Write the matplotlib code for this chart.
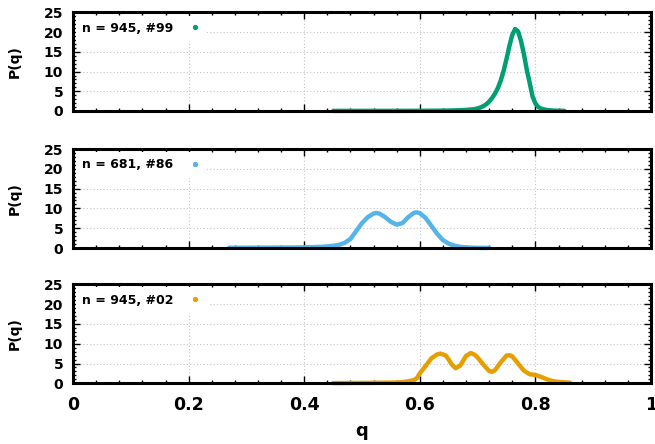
import matplotlib
matplotlib.use('Agg')
import matplotlib.pyplot as plt
from matplotlib.lines import Line2D
from matplotlib.ticker import MultipleLocator

# ── DATA ──────────────────────────────────────────────────────
q_99 = [0.45, 0.50, 0.55, 0.60, 0.63, 0.65, 0.67, 0.68, 0.69, 0.695,
        0.70, 0.705, 0.71, 0.715, 0.72, 0.725, 0.73, 0.735, 0.74, 0.745,
        0.75, 0.755, 0.76, 0.765, 0.77, 0.775, 0.78, 0.785, 0.79, 0.795,
        0.80, 0.805, 0.81, 0.815, 0.82, 0.83, 0.84, 0.85]
p_99 = [0.02, 0.03, 0.03, 0.05, 0.08, 0.12, 0.20, 0.28, 0.40, 0.50,
        0.65, 0.90, 1.25, 1.70, 2.40, 3.30, 4.40, 5.80, 7.70, 10.2,
        13.2, 16.5, 19.3, 20.8, 20.2, 17.8, 14.5, 10.5, 7.2, 3.7,
        1.9, 1.0, 0.6, 0.4, 0.25, 0.12, 0.06, 0.03]

q_86 = [0.27, 0.30, 0.33, 0.36, 0.39, 0.41, 0.43, 0.44, 0.45, 0.46,
        0.47, 0.48, 0.49, 0.50, 0.51, 0.52, 0.525, 0.53, 0.54, 0.55,
        0.56, 0.57, 0.58, 0.59, 0.595, 0.60, 0.61, 0.62, 0.63, 0.64,
        0.65, 0.66, 0.67, 0.68, 0.70, 0.72]
p_86 = [0.05, 0.08, 0.10, 0.12, 0.15, 0.20, 0.30, 0.40, 0.55, 0.80,
        1.30, 2.30, 4.30, 6.30, 7.80, 8.70, 8.85, 8.70, 7.80, 6.60,
        5.90, 6.30, 7.80, 8.90, 9.00, 8.80, 7.60, 5.60, 3.60, 2.00,
        1.10, 0.60, 0.30, 0.15, 0.05, 0.02]

q_02 = [0.45, 0.48, 0.51, 0.54, 0.56, 0.57, 0.58, 0.59, 0.595, 0.60,
        0.61, 0.62, 0.63, 0.636, 0.645, 0.65, 0.655, 0.662, 0.67, 0.68,
        0.688, 0.695, 0.70, 0.71, 0.72, 0.725, 0.73, 0.74, 0.75, 0.755,
        0.76, 0.77, 0.78, 0.79, 0.80, 0.81, 0.82, 0.83, 0.84, 0.85, 0.86]
p_02 = [0.05, 0.08, 0.10, 0.15, 0.20, 0.30, 0.50, 0.80, 1.30, 2.50,
        4.40, 6.30, 7.30, 7.50, 7.00, 6.00, 4.80, 3.80, 4.50, 6.90,
        7.65, 7.20, 6.50, 4.70, 3.10, 2.90, 3.30, 5.30, 7.00, 7.10,
        6.80, 5.00, 3.20, 2.30, 2.10, 1.60, 1.00, 0.55, 0.35, 0.25, 0.15]

labels = ['n = 945, #99', 'n = 681, #86', 'n = 945, #02']
colors = ['#009E73', '#56B4E9', '#E69F00']
series = [(q_99, p_99), (q_86, p_86), (q_02, p_02)]

x_ticks = [0, 0.2, 0.4, 0.6, 0.8, 1]
x_ticklabels = ['0', '0.2', '0.4', '0.6', '0.8', '1']
y_ticks = [0, 5, 10, 15, 20, 25]

# ── FIGURE ────────────────────────────────────────────────────
plt.rcParams['font.family'] = 'DejaVu Sans'
plt.rcParams['font.weight'] = 'bold'

fig = plt.figure(figsize=(6.55, 4.44), dpi=100)
rects = [
    [0.1115, 0.750, 0.8824, 0.2220],
    [0.1115, 0.4414, 0.8824, 0.2230],
    [0.1115, 0.1367, 0.8824, 0.2230],
]

for i, (rect, (q, p), lab, col) in enumerate(zip(rects, series, labels, colors)):
    ax = fig.add_axes(rect)
    ax.set_axisbelow(True)
    ax.plot(q, p, color=col, lw=3.2, solid_capstyle='round',
            solid_joinstyle='round', zorder=3, clip_on=False)

    ax.set_xlim(0, 1)
    ax.set_ylim(0, 25)
    ax.set_xticks(x_ticks)
    ax.set_yticks(y_ticks)
    ax.xaxis.set_minor_locator(MultipleLocator(0.04))
    ax.yaxis.set_minor_locator(MultipleLocator(1))
    ax.tick_params(which='both', direction='in', top=True, right=True,
                   width=1.0, color='black')
    ax.tick_params(which='major', length=5)
    ax.tick_params(which='minor', length=2.5)
    ax.tick_params(axis='y', labelsize=10, pad=7)
    ax.tick_params(axis='x', labelsize=12.5, pad=9)
    for lbl in ax.get_yticklabels():
        lbl.set_fontweight('bold')

    if i == 2:
        ax.set_xticklabels(x_ticklabels, fontweight='bold')
        ax.set_xlabel('q', fontsize=13, fontweight='bold', labelpad=6)
    else:
        ax.set_xticklabels([])

    ax.grid(True, which='major', linestyle=(0, (1, 2)), color='#c4c4c4', lw=0.8)
    for sp in ax.spines.values():
        sp.set_linewidth(2.2)
        sp.set_zorder(4)

    ax.set_ylabel('P(q)', fontsize=10, fontweight='bold')
    ax.yaxis.set_label_coords(-0.088, 0.5)

    handle = Line2D([], [], marker='o', ms=2.8, ls='none', color=col)
    leg = ax.legend([handle], [lab], loc='upper left', bbox_to_anchor=(0.0, 1.0),
                    markerfirst=False, handlelength=1.0, handletextpad=1.2,
                    borderaxespad=0.25, borderpad=0.5, frameon=True,
                    fancybox=False, framealpha=1.0,
                    prop={'size': 9, 'weight': 'bold'})
    leg.get_frame().set_edgecolor('none')
    leg.get_frame().set_facecolor('white')
    leg.set_zorder(5)

fig.savefig('out.png', dpi=100, facecolor='white')
